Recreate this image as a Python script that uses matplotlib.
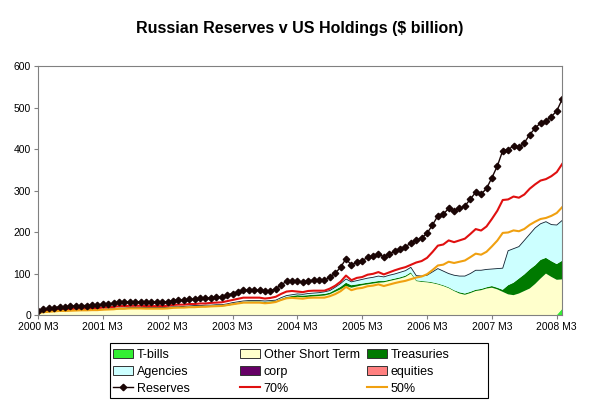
import matplotlib.pyplot as plt
import numpy as np
from matplotlib.patches import Patch, Rectangle
from matplotlib.lines import Line2D

# monthly data, 2000 M3 .. 2008 M4 ($ billion)
tick_labels = ['2000 M3', '2001 M3', '2002 M3', '2003 M3', '2004 M3',
               '2005 M3', '2006 M3', '2007 M3', '2008 M3']

reserves = [10, 14, 16, 18, 20, 20, 21, 22, 23, 23, 24, 24,
            26, 27, 28, 31, 31, 32, 32, 32, 31, 31, 31, 31,
            32, 35, 36, 36, 38, 38, 40, 40, 42, 43, 44, 48,
            52, 56, 60, 60, 60, 60, 57, 59, 63, 73, 81, 83,
            81, 79, 83, 84, 84, 84, 91, 101, 115, 136, 120, 128,
            131, 139, 142, 148, 140, 147, 154, 160, 165, 173, 181, 186,
            197, 217, 239, 243, 257, 251, 257, 263, 279, 296, 291, 305,
            331, 359, 396, 398, 408, 404, 415, 435, 450, 463, 468, 478,
            492, 520]

tbills = [0] * 97 + [15]

other_short = [5, 6, 7, 8, 9, 9, 10, 10, 11, 11, 11, 12,
               12, 13, 13, 14, 14, 15, 15, 15, 15, 15, 15, 15,
               16, 17, 17, 18, 18, 19, 19, 20, 20, 21, 21, 22,
               25, 27, 29, 30, 30, 30, 29, 30, 31, 35, 40, 42,
               44, 43, 44, 45, 46, 47, 50, 56, 62, 70, 66, 69,
               72, 74, 76, 78, 79, 82, 85, 88, 92, 100, 82, 80,
               79, 77, 74, 70, 65, 58, 52, 49, 53, 58, 60, 64,
               66, 62, 56, 50, 48, 52, 58, 64, 75, 88, 100, 92,
               85, 71]

treasuries = [1, 1, 1, 1, 1, 1, 1, 1, 1, 1, 1, 1,
              1, 1, 1, 2, 2, 2, 2, 2, 2, 2, 2, 2,
              2, 2, 2, 2, 2, 2, 2, 2, 2, 2, 2, 3,
              3, 3, 3, 3, 3, 3, 3, 3, 3, 4, 4, 4,
              4, 4, 4, 4, 4, 4, 4, 5, 6, 8, 6, 5,
              4, 4, 4, 4, 3, 3, 3, 3, 3, 3, 2, 2,
              2, 2, 2, 2, 2, 2, 3, 3, 3, 3, 3, 3,
              4, 4, 5, 22, 30, 36, 40, 46, 45, 45, 38, 38,
              38, 45]

agencies = [1, 1, 1, 1, 1, 1, 1, 1, 1, 1, 1, 1,
            1, 1, 1, 1, 1, 1, 1, 1, 1, 1, 1, 1,
            1, 1, 1, 1, 2, 2, 2, 2, 2, 2, 2, 2,
            2, 2, 2, 2, 2, 2, 2, 2, 2, 3, 3, 3,
            3, 3, 4, 4, 4, 5, 5, 6, 8, 9, 8, 9,
            10, 11, 11, 12, 10, 11, 11, 12, 12, 12, 11, 12,
            15, 25, 36, 34, 33, 36, 39, 42, 44, 47, 45, 43,
            41, 46, 52, 83, 82, 77, 82, 85, 90, 87, 87, 88,
            94, 97]

corp = [0] * 98
equities = [0] * 98

plt.rcParams['font.family'] = ['Liberation Sans', 'DejaVu Sans']

x = np.arange(len(reserves))
res = np.array(reserves, dtype=float)

fig = plt.figure(figsize=(5.93, 4.05), dpi=100)
ax = fig.add_axes([0.064, 0.222, 0.884, 0.615])

colors = {'T-bills': '#33EE33', 'Other Short Term': '#FFFFCC',
          'Treasuries': '#007A00', 'Agencies': '#CCFFFF',
          'corp': '#660066', 'equities': '#FF8080'}
layers = [('T-bills', tbills), ('Other Short Term', other_short),
          ('Treasuries', treasuries), ('Agencies', agencies),
          ('corp', corp), ('equities', equities)]
base = np.zeros(len(x))
tops = {}
for name, vals in layers:
    top = base + np.array(vals, dtype=float)
    ax.fill_between(x, base, top, facecolor=colors[name], edgecolor='none', lw=0)
    tops[name] = top
    base = top
# thin outline along the top of the agencies layer
ax.plot(x, tops['Agencies'], color='#102030', lw=0.6)

# 70% and 50% of reserves
ax.plot(x, res * 0.7, color='#E01010', lw=1.5)
ax.plot(x, res * 0.5, color='#F0A010', lw=1.5)
ax.plot(x, res, color='#1A0505', lw=1.0, marker='D', ms=3.3)

ax.set_xlim(0, len(x) - 1)
ax.set_ylim(0, 600)
ax.set_yticks(range(0, 601, 100))
ax.set_xticks(range(0, 97, 12))
ax.set_xticklabels(tick_labels)
ax.tick_params(labelsize=7.5, length=3, color='#808080', pad=2)
for s in ax.spines.values():
    s.set_color('#808080')
    s.set_linewidth(0.8)

fig.text(0.505, 0.93, 'Russian Reserves v US Holdings ($ billion)',
         ha='center', va='center', fontsize=11.5, fontweight='bold')


def patch(col):
    return Patch(facecolor=col, edgecolor='#333333', lw=0.7)


# legend: three columns of equal width inside one box
columns = [
    [(patch(colors['T-bills']), 'T-bills'),
     (patch(colors['Agencies']), 'Agencies'),
     (Line2D([], [], color='#1A0505', lw=1, marker='D', ms=3.3), 'Reserves')],
    [(patch(colors['Other Short Term']), 'Other Short Term'),
     (patch(colors['corp']), 'corp'),
     (Line2D([], [], color='#E01010', lw=1.5), '70%')],
    [(patch(colors['Treasuries']), 'Treasuries'),
     (patch(colors['equities']), 'equities'),
     (Line2D([], [], color='#F0A010', lw=1.5), '50%')],
]
col_x = [113 / 593, 240 / 593, 367 / 593]
for cx, entries in zip(col_x, columns):
    fig.legend([h for h, _ in entries], [l for _, l in entries],
               loc='upper left', bbox_to_anchor=(cx, 1 - 349 / 405),
               fontsize=9, frameon=False, handlelength=1.6,
               handleheight=0.65, borderpad=0, borderaxespad=0,
               labelspacing=0.38, handletextpad=0.3)
fig.add_artist(Rectangle((110 / 593, 7 / 405), 378 / 593, 55 / 405,
                         transform=fig.transFigure, fill=False,
                         edgecolor='black', lw=0.8))

fig.savefig('out.png', dpi=100)
